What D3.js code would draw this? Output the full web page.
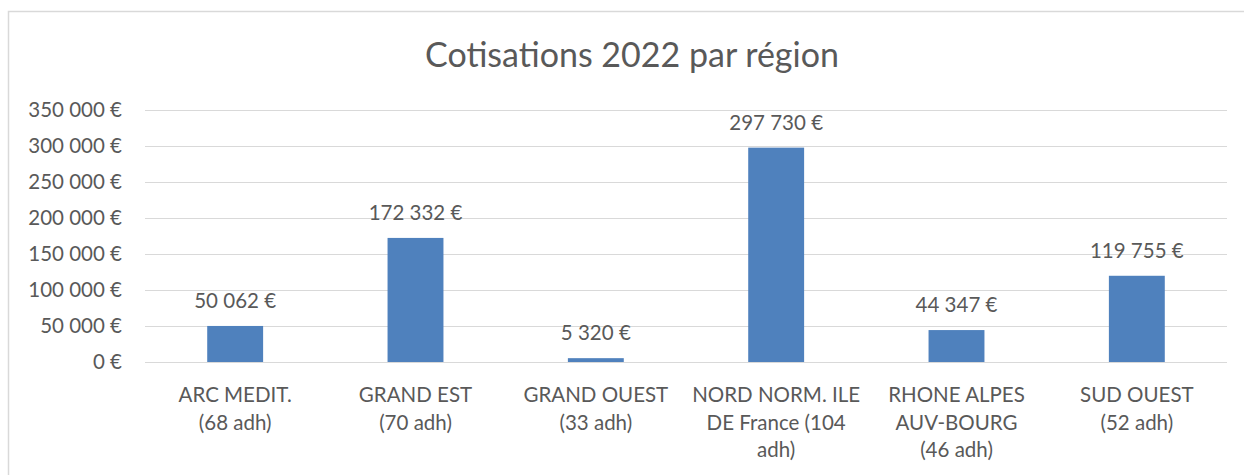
<!DOCTYPE html>
<meta charset="utf-8">
<style>
body {margin: 0; background: white;}
text {font-family: Lato, "Open Sans", sans-serif; fill: #595959;}
.grid line {stroke: #d9d9d9; stroke-width: 1px;}
.bar {fill: #4f81bd;}
</style>
<body>
<script src="https://d3js.org/d3.v7.min.js"></script>
<script>
var width = 1244, height = 475
var title = "Cotisations 2022 par région"
var regions = ["ARC MEDIT.\n(68 adh)", "GRAND EST\n(70 adh)", "GRAND OUEST\n(33 adh)",
  "NORD NORM. ILE\nDE France (104\nadh)", "RHONE ALPES\nAUV-BOURG\n(46 adh)", "SUD OUEST\n(52 adh)"]
var cotisations = [50062, 172332, 5320, 297730, 44347, 119755]
var yTicks = [0, 50000, 100000, 150000, 200000, 250000, 300000, 350000]

var fmt = function(v) { return d3.format(",")(v).replace(/,/g, " ") + " €" }

var svg = d3.select("body").append("svg")
  .attr("width", width).attr("height", height)

// chart area frame
svg.append("rect")
  .attr("x", 8.5).attr("y", 11.5).attr("width", 1300).attr("height", 600)
  .attr("fill", "white").attr("stroke", "#d9d9d9").attr("stroke-width", 1.5)

var x = d3.scaleBand().domain(regions).range([145, 1227]).paddingInner(0.69).paddingOuter(0.345)
var y = d3.scaleLinear().domain([0, 350000]).range([362, 110])

svg.append("text")
  .attr("x", 632).attr("y", 67).attr("text-anchor", "middle")
  .style("font-size", "34px").text(title)

var grid = svg.append("g").attr("class", "grid")
grid.selectAll("line").data(yTicks).enter().append("line")
  .attr("x1", 145).attr("x2", 1227)
  .attr("y1", function(d) { return Math.round(y(d)) + 0.5 })
  .attr("y2", function(d) { return Math.round(y(d)) + 0.5 })

svg.selectAll(".ytick").data(yTicks).enter().append("text")
  .attr("class", "ytick")
  .attr("x", 122).attr("y", function(d) { return y(d) })
  .attr("dy", "0.36em").attr("text-anchor", "end")
  .style("font-size", "20.5px")
  .text(fmt)

svg.selectAll(".bar").data(cotisations).enter().append("rect")
  .attr("class", "bar")
  .attr("x", function(d, i) { return x(regions[i]) })
  .attr("width", x.bandwidth())
  .attr("y", function(d) { return y(d) })
  .attr("height", function(d) { return y(0) - y(d) })

svg.selectAll(".val").data(cotisations).enter().append("text")
  .attr("class", "val")
  .attr("x", function(d, i) { return x(regions[i]) + x.bandwidth() / 2 })
  .attr("y", function(d) { return y(d) - 18 })
  .attr("text-anchor", "middle")
  .style("font-size", "20.5px")
  .text(fmt)

svg.selectAll(".cat").data(regions).enter().append("text")
  .attr("class", "cat")
  .attr("text-anchor", "middle")
  .style("font-size", "20.5px")
  .each(function(d) {
    var t = d3.select(this), cx = x(d) + x.bandwidth() / 2
    d.split("\n").forEach(function(line, k) {
      t.append("tspan").attr("x", cx).attr("y", 402 + k * 27.5).text(line)
    })
  })
</script>
